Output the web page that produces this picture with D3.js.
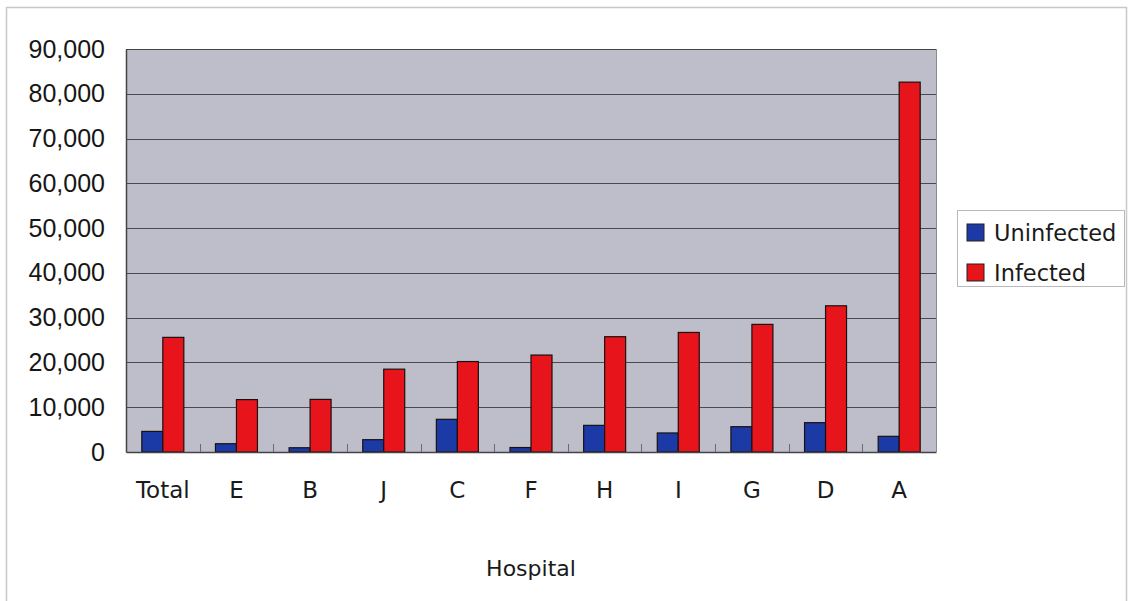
<!DOCTYPE html>
<html>
<head>
<meta charset="utf-8">
<script src="https://cdn.jsdelivr.net/npm/d3@7/dist/d3.min.js"></script>
<style>
  html, body { margin: 0; padding: 0; background: #fff; }
  svg { display: block; }
</style>
</head>
<body>
<svg id="chart" width="1129" height="601"></svg>
<script>
// Hospitals in display order
const hospitals = ["Total", "E", "B", "J", "C", "F", "H", "I", "G", "D", "A"];
// Counts per hospital
const uninfected = [4600, 1850, 950, 2750, 7300, 1000, 5950, 4250, 5650, 6550, 3500];
const infected   = [25600, 11700, 11750, 18500, 20200, 21650, 25750, 26700, 28500, 32650, 82600];
const seriesNames = ["Uninfected", "Infected"];
const seriesColors = ["#1c3aa6", "#e8141b"];
const yTicks = [0, 10000, 20000, 30000, 40000, 50000, 60000, 70000, 80000, 90000];

const svg = d3.select("#chart");
const plot = { left: 126, top: 49, right: 936, bottom: 452 };

// outer chart frame
svg.append("rect")
  .attr("x", 6.5).attr("y", 7.5).attr("width", 1120).attr("height", 600)
  .attr("fill", "#fff").attr("stroke", "#c8c8cc").attr("stroke-width", 1.5);

const x = d3.scaleBand().domain(hospitals).range([plot.left, plot.right]).paddingInner(0).paddingOuter(0);
const y = d3.scaleLinear().domain([0, 90000]).range([plot.bottom, plot.top]);
const barW = 21;

// plot background
svg.append("rect")
  .attr("x", plot.left).attr("y", plot.top)
  .attr("width", plot.right - plot.left).attr("height", plot.bottom - plot.top)
  .attr("fill", "#bebecb");

// gridlines
svg.append("g").selectAll("line").data(yTicks.slice(1)).join("line")
  .attr("x1", plot.left).attr("x2", plot.right)
  .attr("y1", d => Math.round(y(d)) + 0.5).attr("y2", d => Math.round(y(d)) + 0.5)
  .attr("stroke", "#4a4a4f").attr("stroke-width", 1);

// right edge
svg.append("line")
  .attr("x1", plot.right + 0.5).attr("x2", plot.right + 0.5)
  .attr("y1", plot.top).attr("y2", plot.bottom)
  .attr("stroke", "#8a8a92").attr("stroke-width", 1);

// bars
const rows = hospitals.map((h, i) => ({ h, vals: [uninfected[i], infected[i]] }));
const groups = svg.append("g").selectAll("g").data(rows).join("g");
groups.selectAll("rect").data(d => d.vals.map((v, k) => ({ h: d.h, v, k }))).join("rect")
  .attr("x", d => x(d.h) + x.bandwidth() / 2 - barW + d.k * barW)
  .attr("y", d => y(d.v))
  .attr("width", barW)
  .attr("height", d => y(0) - y(d.v))
  .attr("fill", d => seriesColors[d.k])
  .attr("stroke", "#1a1010").attr("stroke-width", 1.2);

// axes
const yAxis = d3.axisLeft(y).tickValues(yTicks).tickSize(0).tickPadding(21)
  .tickFormat(d3.format(","));
const gy = svg.append("g").attr("transform", `translate(${plot.left},0)`).call(yAxis);
gy.select(".domain").attr("stroke", "#444").attr("stroke-width", 1.5);
gy.selectAll("text")
  .attr("font-family", "Liberation Sans, Arial, sans-serif")
  .attr("font-size", 25).attr("fill", "#161616");

// top border
svg.append("line")
  .attr("x1", plot.left).attr("x2", plot.right)
  .attr("y1", plot.top + 0.5).attr("y2", plot.top + 0.5)
  .attr("stroke", "#444").attr("stroke-width", 1.2);

const xAxis = d3.axisBottom(x).tickSize(0).tickPadding(30);
const gx = svg.append("g").attr("transform", `translate(0,${plot.bottom})`).call(xAxis);
gx.select(".domain").attr("stroke", "#444").attr("stroke-width", 1.5);
gx.selectAll("text")
  .attr("font-family", "DejaVu Sans, sans-serif")
  .attr("font-size", 23).attr("fill", "#1a1a1a");

// category separator ticks pointing up from the baseline
svg.append("g").selectAll("line").data(hospitals.slice(1)).join("line")
  .attr("x1", d => Math.round(x(d)) + 0.5).attr("x2", d => Math.round(x(d)) + 0.5)
  .attr("y1", plot.bottom).attr("y2", plot.bottom - 8)
  .attr("stroke", "#6a6a72").attr("stroke-width", 1);

// x axis title
svg.append("text")
  .attr("x", (plot.left + plot.right) / 2).attr("y", 576)
  .attr("text-anchor", "middle")
  .attr("font-family", "DejaVu Sans, sans-serif")
  .attr("font-size", 22).attr("fill", "#1a1a1a")
  .text("Hospital");

// legend
const lg = svg.append("g");
lg.append("rect")
  .attr("x", 957.5).attr("y", 210.5).attr("width", 167).attr("height", 76)
  .attr("fill", "#fff").attr("stroke", "#b8b8be").attr("stroke-width", 1);
const items = lg.selectAll("g.item").data(seriesNames).join("g")
  .attr("class", "item")
  .attr("transform", (d, i) => `translate(967,${224 + i * 40})`);
items.append("rect")
  .attr("width", 17).attr("height", 17)
  .attr("fill", (d, i) => seriesColors[i])
  .attr("stroke", "#222").attr("stroke-width", 1);
items.append("text")
  .attr("x", 27).attr("y", 9).attr("dy", "0.36em")
  .attr("font-family", "DejaVu Sans, sans-serif")
  .attr("font-size", 22.5).attr("fill", "#1a1a1a")
  .text(d => d);
</script>
</body>
</html>
